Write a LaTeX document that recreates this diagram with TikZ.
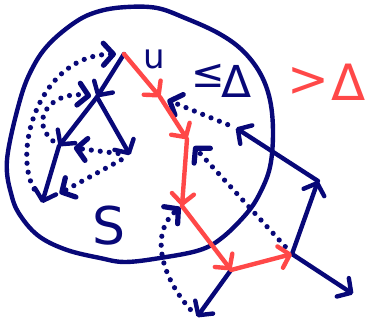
\documentclass[tikz,border=0pt]{standalone}
\usepackage{fontspec}
\setmainfont{DejaVu Sans}
\usetikzlibrary{arrows.meta}
\definecolor{navy}{RGB}{8,8,120}
\definecolor{redp}{RGB}{255,72,72}
\begin{document}
\begin{tikzpicture}[x=1pt,y=-1pt,
  tip/.style={-{Straight Barb[length=10pt,width=22pt,round]}},
  treearrow/.style={draw=navy,line width=4.4pt,line cap=round,line join=round,tip},
  redarrow/.style={draw=redp,line width=4.4pt,line cap=round,line join=round,tip},
  dotarrow/.style={draw=navy,line width=5.2pt,line cap=round,dash pattern=on 0pt off 9pt,tip},
  lab/.style={inner sep=0pt,font=\fontsize{#1}{#1}\selectfont}]
\useasboundingbox (0,0) rectangle (369,323);
% set S
\draw[navy,line width=4.4pt] plot[smooth cycle,tension=0.6] coordinates {
 (7,160) (12,197) (22,218) (40,237) (67,250) (100,258) (125,262) (160,258)
 (200,250) (223,237) (247,213) (260,193) (270,167) (273,133) (270,100)
 (260,73) (242,50) (218,33) (185,18) (157,8) (127,7) (100,11) (77,21)
 (50,43) (33,67) (20,100)};
% vertices
\coordinate (u) at (124,54);
\coordinate (A) at (97,97);
\coordinate (L) at (59,146);
\coordinate (R) at (130,155);
\coordinate (LL) at (42,203);
\coordinate (P) at (160,97);
\coordinate (B) at (187,139);
\coordinate (C) at (182,206);
\coordinate (D) at (231,270);
\coordinate (E) at (292,254);
\coordinate (F) at (318,181);
\coordinate (H) at (236,128);
\coordinate (G) at (197,317);
\coordinate (I) at (353,294);
% tree edges
\draw[treearrow] (u) -- (A);
\draw[treearrow] (A) -- (L);
\draw[treearrow] (A) -- (R);
\draw[treearrow] (L) -- (LL);
\draw[treearrow] (D) -- (G);
\draw[treearrow] (E) -- (F);
\draw[treearrow] (F) -- (H);
\draw[treearrow] (E) -- (I);
% dotted edges
\draw[dotarrow,shorten <=12pt,shorten >=15pt] (R) -- (L);
\draw[dotarrow,shorten <=10pt,shorten >=20pt] (R) -- (LL);
\draw[dotarrow,shorten <=16pt,shorten >=8pt] (LL) .. controls (12,150) and (40,55) .. (u);
\draw[dotarrow,shorten <=8pt,shorten >=6pt] (L) .. controls (28,120) and (52,90) .. (A);
\draw[dotarrow,shorten <=9pt,shorten >=8pt] (H) -- (P);
\draw[dotarrow,shorten <=10pt,shorten >=10pt] (E) -- (B);
\draw[dotarrow,shorten <=10pt,shorten >=2pt] (G) .. controls (160,275) and (150,232) .. (C);
% red path
\draw[redarrow] (u) -- (P);
\draw[redarrow] (P) -- (B);
\draw[redarrow] (B) -- (C);
\draw[redarrow] (C) -- (D);
\draw[redarrow] (D) -- (E);
% labels
\node[lab=34,text=navy] (ulab) at (154,59) {u};
\node[lab=40,text=navy] (le) at (208,76) {≤};
\node[lab=44,text=navy] (d1) at (237,81) {Δ};
\node[lab=50,text=redp] (gt) at (308,82) {>};
\node[lab=50,text=redp] (d2) at (349,82) {Δ};
\node[lab=52,text=navy] (S) at (109,226) {S};
\end{tikzpicture}
\end{document}
